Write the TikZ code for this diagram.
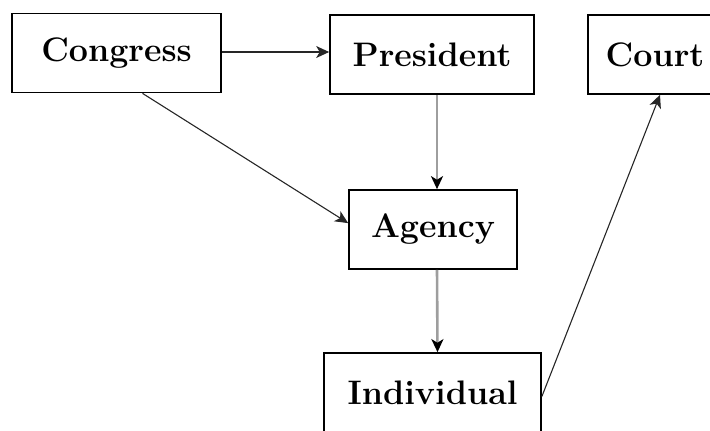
\documentclass[tikz,border=0pt]{standalone}
\usetikzlibrary{arrows.meta}
\begin{document}
\begin{tikzpicture}[x=0.5pt, y=-0.5pt,
  box/.style={draw=black, line width=0.85pt, fill=white, inner sep=0pt,
    minimum height=39.5pt, font=\fontsize{17}{20}\selectfont\bfseries},
  thinarrow/.style={draw=black!85, line width=0.55pt,
    -{Stealth[length=6.5pt, width=6pt, inset=1.8pt]}},
  greyarrow/.style={draw=black!38, line width=1.3pt,
    -{Stealth[length=6.5pt, width=6pt, inset=1.8pt, color=black]}}]
  \useasboundingbox (0,0) rectangle (710,430);
  \begin{scope}
    \clip (0,0) rectangle (710,430);
    \node[box, minimum width=104.5pt] (congress)   at (116.5,53)   {Congress};
    \node[box, minimum width=102pt]   (president)  at (432,54.5)   {President};
    \node[box, minimum width=67pt]    (court)      at (655,54.5)   {Court};
    \node[box, minimum width=84pt]    (agency)     at (433,229.5)  {Agency};
    \node[box, minimum width=108.5pt] (individual) at (432.5,392.5) {Individual};

    \draw[thinarrow] ([yshift=0.5pt]congress.east) -- ([yshift=0.5pt]congress.east -| president.west);
    \draw[thinarrow] ([xshift=13pt]congress.south) -- ([yshift=3.2pt]agency.west);
    \draw[greyarrow] ([xshift=2.5pt]president.south) -- ([xshift=2pt]agency.north);
    \draw[greyarrow] ([xshift=2pt]agency.south) -- ([xshift=2.5pt]individual.north);
    \draw[thinarrow] ([yshift=-2pt]individual.east) -- ([xshift=2.5pt]court.south);
  \end{scope}
\end{tikzpicture}
\end{document}
